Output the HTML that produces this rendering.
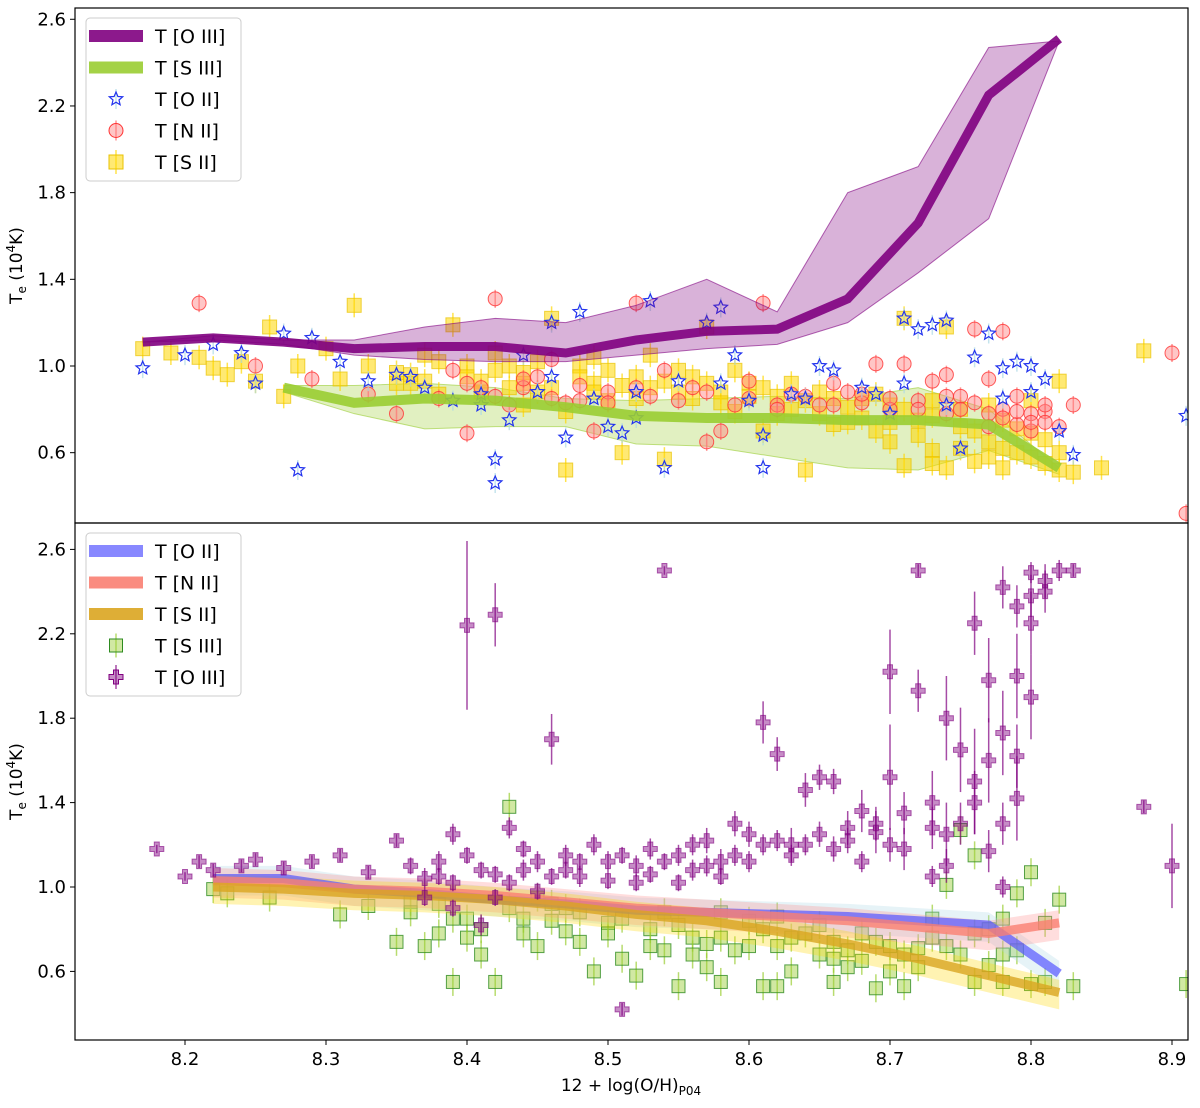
<!DOCTYPE html>
<html><head><meta charset="utf-8"><style>
body{margin:0;background:#fff}
svg text{font-family:"DejaVu Sans","Liberation Sans",sans-serif;fill:#000}
</style></head><body>
<svg id="chart" width="1200" height="1103" viewBox="0 0 1200 1103" xmlns="http://www.w3.org/2000/svg">
<g id="topPanel"></g>
<g id="botPanel"></g>
</svg>
<script>
// ---- data ----
const oiiiX=[8.17,8.22,8.27,8.32,8.37,8.42,8.47,8.52,8.57,8.62,8.67,8.72,8.77,8.82];
const oiiiY=[1.11,1.13,1.11,1.08,1.09,1.09,1.06,1.12,1.16,1.17,1.31,1.66,2.25,2.51];
const oiiiHi=[1.11,1.14,1.12,1.12,1.18,1.22,1.20,1.28,1.40,1.25,1.80,1.92,2.47,2.50];
const oiiiLo=[1.11,1.12,1.10,1.05,1.03,1.02,1.02,1.05,1.08,1.10,1.20,1.43,1.68,2.50];
const siiiX=[8.27,8.32,8.37,8.42,8.47,8.52,8.57,8.62,8.67,8.72,8.77,8.82];
const siiiY=[0.90,0.83,0.85,0.84,0.81,0.77,0.76,0.76,0.75,0.75,0.73,0.53];
const siiiHi=[0.91,0.91,0.92,0.90,0.85,0.84,0.85,0.86,0.85,0.90,0.80,0.53];
const siiiLo=[0.88,0.78,0.71,0.72,0.72,0.64,0.63,0.58,0.53,0.52,0.61,0.50];
const lineX=[8.22,8.27,8.32,8.37,8.42,8.47,8.52,8.57,8.62,8.67,8.72,8.77,8.82];
const oiiLine=[1.04,1.04,0.99,0.97,0.94,0.92,0.89,0.88,0.87,0.86,0.84,0.82,0.59];
const niiLine=[1.03,1.02,0.99,0.98,0.96,0.93,0.90,0.88,0.86,0.84,0.81,0.78,0.83];
const siiLine=[1.00,0.99,0.97,0.96,0.94,0.91,0.87,0.84,0.79,0.73,0.66,0.58,0.50];
const oiiPts=[[8.17,0.99],[8.20,1.05],[8.22,1.10],[8.24,1.06],[8.25,0.92],[8.27,1.15],[8.28,0.52],[8.29,1.13],[8.31,1.02],[8.33,0.93],[8.35,0.96],[8.37,0.90],[8.39,0.84],[8.41,0.82],[8.42,0.57],[8.43,0.75],[8.44,1.05],[8.45,0.88],[8.46,1.20],[8.47,0.67],[8.48,1.25],[8.49,0.85],[8.50,0.72],[8.51,0.69],[8.52,0.76],[8.53,1.30],[8.54,0.53],[8.55,0.93],[8.57,1.20],[8.58,1.27],[8.59,1.05],[8.60,0.84],[8.61,0.53],[8.61,0.68],[8.63,0.87],[8.65,1.00],[8.66,0.98],[8.68,0.90],[8.70,0.78],[8.71,1.22],[8.72,1.17],[8.73,1.19],[8.74,1.21],[8.75,0.62],[8.76,1.04],[8.77,1.15],[8.78,0.99],[8.79,1.02],[8.80,0.88],[8.81,0.94],[8.83,0.59],[8.91,0.77],[8.42,0.46],[8.41,0.87],[8.36,0.95],[8.71,0.92],[8.80,1.00],[8.82,0.70],[8.46,0.95],[8.52,0.88],[8.58,0.92],[8.64,0.85],[8.69,0.87],[8.74,0.82],[8.78,0.85]];
const niiPts=[[8.21,1.29],[8.25,1.00],[8.29,0.94],[8.33,0.87],[8.35,0.78],[8.38,0.85],[8.40,0.69],[8.41,0.90],[8.42,1.31],[8.43,0.82],[8.44,0.90],[8.46,1.03],[8.47,0.83],[8.48,0.84],[8.49,0.70],[8.50,0.88],[8.52,1.29],[8.54,0.98],[8.56,0.90],[8.57,0.65],[8.58,0.70],[8.59,0.82],[8.61,1.29],[8.62,0.82],[8.63,0.87],[8.65,0.82],[8.66,0.92],[8.67,0.88],[8.69,1.01],[8.70,0.80],[8.71,1.01],[8.72,0.84],[8.73,0.93],[8.74,0.96],[8.75,0.86],[8.76,1.17],[8.77,0.78],[8.77,0.94],[8.78,1.16],[8.78,0.80],[8.79,0.73],[8.80,0.78],[8.80,0.70],[8.81,0.79],[8.82,0.72],[8.83,0.82],[8.90,1.06],[8.91,0.32],[8.39,0.98],[8.45,0.95],[8.53,0.86],[8.60,0.93],[8.68,0.83],[8.74,0.86],[8.79,0.86],[8.81,0.74],[8.40,0.92],[8.42,0.86],[8.44,0.94],[8.46,0.85],[8.48,0.91],[8.50,0.83],[8.52,0.90],[8.55,0.84],[8.57,0.88],[8.60,0.85],[8.62,0.80],[8.64,0.86],[8.66,0.82],[8.68,0.87],[8.70,0.85],[8.72,0.80],[8.74,0.78],[8.76,0.83],[8.78,0.76],[8.79,0.79],[8.80,0.74],[8.81,0.82],[8.77,0.72],[8.75,0.80]];
const siiPts=[[8.17,1.08],[8.19,1.06],[8.21,1.04],[8.22,0.99],[8.23,0.96],[8.24,1.02],[8.25,0.93],[8.26,1.18],[8.27,0.86],[8.28,1.00],[8.30,1.08],[8.31,0.94],[8.32,1.28],[8.33,1.00],[8.35,0.92],[8.36,0.96],[8.37,1.05],[8.38,0.87],[8.39,1.19],[8.40,1.00],[8.41,0.93],[8.42,1.06],[8.43,0.90],[8.44,0.97],[8.45,0.88],[8.46,1.22],[8.47,0.79],[8.47,0.52],[8.48,1.00],[8.49,0.92],[8.50,0.84],[8.51,0.60],[8.52,0.95],[8.53,0.90],[8.54,0.57],[8.55,0.98],[8.56,0.85],[8.57,1.18],[8.58,0.88],[8.59,0.79],[8.60,0.92],[8.61,0.70],[8.62,0.86],[8.63,0.80],[8.64,0.52],[8.65,0.78],[8.66,0.85],[8.67,0.81],[8.68,0.76],[8.69,0.70],[8.70,0.82],[8.71,1.22],[8.71,0.54],[8.72,0.75],[8.73,0.61],[8.74,1.18],[8.74,0.53],[8.75,0.72],[8.76,0.56],[8.77,0.65],[8.78,0.53],[8.78,0.75],[8.79,0.60],[8.80,0.69],[8.81,0.55],[8.82,0.52],[8.82,0.93],[8.83,0.51],[8.85,0.53],[8.88,1.07],[8.44,0.82],[8.53,1.05],[8.59,0.98],[8.66,0.73],[8.69,0.87],[8.73,0.84],[8.77,0.82],[8.80,0.84],[8.36,0.92],[8.42,0.98],[8.49,1.04],[8.56,0.95],[8.63,0.92],[8.35,0.97],[8.37,0.93],[8.38,1.02],[8.40,0.95],[8.41,0.88],[8.43,1.00],[8.44,0.92],[8.45,1.02],[8.46,0.90],[8.48,0.95],[8.49,0.88],[8.50,0.98],[8.51,0.91],[8.52,0.85],[8.54,0.93],[8.55,0.88],[8.57,0.92],[8.58,0.83],[8.60,0.86],[8.61,0.90],[8.62,0.78],[8.64,0.84],[8.65,0.88],[8.67,0.74],[8.68,0.85],[8.70,0.74],[8.71,0.80],[8.72,0.68],[8.73,0.77],[8.75,0.80],[8.76,0.70],[8.77,0.58],[8.78,0.62],[8.79,0.71],[8.80,0.58],[8.81,0.66],[8.82,0.60],[8.75,0.62],[8.73,0.55],[8.70,0.65]];
const siiiPts=[[8.22,0.99],[8.23,0.97],[8.26,0.95],[8.31,0.87],[8.33,0.91],[8.35,0.74],[8.36,0.93],[8.37,0.72],[8.38,0.78],[8.39,0.55],[8.40,0.76],[8.41,0.68],[8.42,0.55],[8.43,1.38],[8.44,0.85],[8.45,0.72],[8.46,0.92],[8.47,0.79],[8.48,0.74],[8.49,0.60],[8.50,0.83],[8.51,0.66],[8.52,0.58],[8.53,0.80],[8.54,0.70],[8.55,0.53],[8.56,0.76],[8.57,0.62],[8.58,0.88],[8.59,0.70],[8.60,0.84],[8.61,0.53],[8.62,0.72],[8.63,0.60],[8.64,0.78],[8.65,0.68],[8.66,0.74],[8.67,0.62],[8.68,0.78],[8.69,0.52],[8.70,0.60],[8.71,0.53],[8.72,0.71],[8.73,0.85],[8.74,1.01],[8.75,1.27],[8.76,1.15],[8.77,0.63],[8.78,0.68],[8.79,0.97],[8.80,0.54],[8.80,1.07],[8.81,0.83],[8.82,0.94],[8.83,0.53],[8.91,0.54],[8.47,0.90],[8.54,0.88],[8.62,0.86],[8.69,0.74],[8.74,0.72],[8.78,0.85],[8.39,0.85],[8.45,0.95],[8.57,0.73],[8.66,0.66],[8.71,0.68],[8.76,0.78],[8.36,0.88],[8.38,0.92],[8.40,0.85],[8.41,0.80],[8.43,0.90],[8.44,0.78],[8.46,0.84],[8.48,0.88],[8.50,0.78],[8.51,0.85],[8.53,0.72],[8.55,0.82],[8.56,0.68],[8.58,0.76],[8.60,0.72],[8.61,0.80],[8.63,0.76],[8.65,0.82],[8.67,0.70],[8.68,0.65],[8.70,0.72],[8.72,0.62],[8.73,0.76],[8.75,0.68],[8.77,0.80],[8.79,0.70],[8.81,0.55],[8.78,0.55],[8.76,0.55],[8.66,0.55],[8.62,0.53],[8.58,0.55]];
const oiiiPts=[[8.18,1.18,0.02],[8.20,1.05,0.02],[8.21,1.12,0.03],[8.22,1.08,0.03],[8.24,1.10,0.03],[8.25,1.13,0.03],[8.27,1.09,0.03],[8.29,1.12,0.03],[8.31,1.15,0.03],[8.33,1.07,0.03],[8.35,1.22,0.03],[8.37,1.04,0.05],[8.38,1.12,0.05],[8.39,1.25,0.05],[8.40,2.24,0.4],[8.41,0.82,0.05],[8.42,2.29,0.15],[8.43,1.28,0.05],[8.44,1.08,0.05],[8.45,1.12,0.05],[8.46,1.70,0.12],[8.47,1.15,0.05],[8.48,1.05,0.05],[8.49,1.20,0.05],[8.50,1.12,0.05],[8.51,0.42,0.03],[8.52,1.10,0.05],[8.53,1.18,0.05],[8.54,2.50,0.02],[8.55,1.15,0.05],[8.56,1.08,0.05],[8.57,1.22,0.06],[8.58,1.12,0.06],[8.59,1.30,0.06],[8.60,1.25,0.06],[8.61,1.78,0.1],[8.62,1.63,0.08],[8.63,1.20,0.08],[8.64,1.46,0.08],[8.65,1.52,0.06],[8.66,1.50,0.06],[8.67,1.28,0.08],[8.68,1.36,0.1],[8.69,1.26,0.1],[8.70,2.02,0.2],[8.70,1.52,0.25],[8.71,1.18,0.1],[8.72,2.50,0.03],[8.72,1.93,0.1],[8.73,1.40,0.15],[8.74,1.80,0.2],[8.74,1.25,0.15],[8.75,1.65,0.2],[8.76,2.25,0.15],[8.76,1.50,0.25],[8.77,1.98,0.2],[8.77,1.17,0.1],[8.78,2.42,0.1],[8.78,1.73,0.2],[8.79,2.33,0.1],[8.79,1.42,0.2],[8.80,2.49,0.05],[8.80,1.90,0.2],[8.81,2.40,0.1],[8.82,2.50,0.05],[8.83,2.50,0.03],[8.88,1.38,0.03],[8.90,1.10,0.2],[8.39,1.02,0.04],[8.45,0.98,0.04],[8.52,1.02,0.04],[8.58,1.05,0.04],[8.63,1.15,0.05],[8.68,1.12,0.05],[8.73,1.05,0.05],[8.78,1.00,0.05],[8.42,1.06,0.04],[8.55,1.02,0.04],[8.36,1.10,0.04],[8.38,1.05,0.04],[8.40,1.15,0.04],[8.41,1.08,0.04],[8.43,1.02,0.04],[8.44,1.18,0.04],[8.46,1.05,0.04],[8.47,1.08,0.04],[8.48,1.12,0.04],[8.50,1.03,0.04],[8.51,1.15,0.04],[8.53,1.06,0.04],[8.54,1.12,0.04],[8.56,1.20,0.05],[8.57,1.10,0.05],[8.59,1.15,0.05],[8.60,1.12,0.05],[8.61,1.20,0.05],[8.62,1.22,0.05],[8.64,1.20,0.05],[8.65,1.25,0.06],[8.66,1.18,0.06],[8.67,1.22,0.06],[8.69,1.30,0.08],[8.70,1.20,0.08],[8.71,1.35,0.1],[8.73,1.28,0.1],[8.74,1.10,0.08],[8.75,1.30,0.1],[8.76,1.40,0.15],[8.77,1.60,0.2],[8.78,1.30,0.1],[8.79,2.00,0.2],[8.80,2.25,0.15],[8.81,2.45,0.08],[8.79,1.62,0.15],[8.80,2.38,0.1],[8.37,0.95,0.04],[8.39,0.90,0.04],[8.42,0.95,0.04]];
const xTicks=[8.2,8.3,8.4,8.5,8.6,8.7,8.8,8.9];
const yTicks=[0.6,1.0,1.4,1.8,2.2,2.6];

// ---- axes ----
const NS='http://www.w3.org/2000/svg';
const L=75,R=1188;
const xs=v=>185+(v-8.2)*1410;
const ysTop=v=>366-(v-1.0)*216.7;
const ysBot=v=>887-(v-1.0)*211;
function mk(p,t,a){const e=document.createElementNS(NS,t);for(const k in a)e.setAttribute(k,a[k]);p.appendChild(e);return e;}
const topG=document.getElementById('topPanel'),botG=document.getElementById('botPanel');
const svgRoot=document.getElementById('chart');

function clip(id,y0,y1){const d=mk(svgRoot,'clipPath',{id:id});mk(d,'rect',{x:L,y:y0,width:R-L,height:y1-y0});}
clip('ct',8,523);clip('cb',523,1040);
const gT=mk(topG,'g',{'clip-path':'url(#ct)'});


const gB=mk(botG,'g',{'clip-path':'url(#cb)'});



function band(g,X,lo,hi,ys,fill,op,stroke,name){
  let d='M'+X.map((x,i)=>xs(x)+','+ys(hi[i])).join('L')+'L'+X.slice().reverse().map((x,i)=>xs(x)+','+ys(lo[lo.length-1-i])).join('L')+'Z';
  const e=mk(g,'path',{d:d,fill:fill,'fill-opacity':op,stroke:stroke,'stroke-opacity':0.6,'stroke-width':1});
  
  
}
function line(g,X,Y,ys,col,w,op,name){
  const e=mk(g,'polyline',{points:X.map((x,i)=>xs(x)+','+ys(Y[i])).join(' '),fill:'none',stroke:col,'stroke-width':w,'stroke-opacity':op});
  
  
}
function star(cx,cy,r){let p=[];for(let i=0;i<10;i++){const a=-Math.PI/2+i*Math.PI/5,rr=i%2?r*0.45:r;p.push((cx+rr*Math.cos(a)).toFixed(1)+','+(cy+rr*Math.sin(a)).toFixed(1));}return p.join(' ');}
function errbar(g,x,y1,y2,col){mk(g,'line',{x1:x,x2:x,y1:y1,y2:y2,stroke:col,'stroke-width':1.5,'stroke-opacity':0.7});}

// top panel
band(gT,siiiX,siiiLo,siiiHi,ysTop,'#9acd32',0.3,'#9acd32','siii-band');
siiPts.forEach(p=>{const x=xs(p[0]),y=ysTop(p[1]);errbar(gT,x,y-12,y+12,'#ffd700');
  const e=mk(gT,'rect',{x:x-7,y:y-7,width:14,height:14,fill:'#ffd700','fill-opacity':0.55,stroke:'#e8c200','stroke-opacity':0.7});
  
  });
niiPts.forEach(p=>{const x=xs(p[0]),y=ysTop(p[1]);errbar(gT,x,y-9,y+9,'#ff6666');
  const e=mk(gT,'circle',{cx:x,cy:y,r:7,fill:'#ff8080','fill-opacity':0.45,stroke:'#ff3333','stroke-opacity':0.8});
  
  });
oiiPts.forEach(p=>{const x=xs(p[0]),y=ysTop(p[1]);errbar(gT,x,y-10,y+10,'#add8e6');
  const e=mk(gT,'polygon',{points:star(x,y,7),fill:'none',stroke:'#2233ee','stroke-width':1.2});
  
  });
line(gT,siiiX,siiiY,ysTop,'#9acd32',10,0.9,'siii-line');
band(gT,oiiiX,oiiiLo,oiiiHi,ysTop,'#800080',0.3,'#800080','oiii-band');
line(gT,oiiiX,oiiiY,ysTop,'#800080',9,0.9,'oiii-line');

// bottom panel
siiiPts.forEach(p=>{const x=xs(p[0]),y=ysBot(p[1]);errbar(gB,x,y-14,y+14,'#9acd32');
  const e=mk(gB,'rect',{x:x-6.5,y:y-6.5,width:13,height:13,fill:'#9acd32','fill-opacity':0.45,stroke:'#2e8b20','stroke-opacity':0.8});
  
  });
[['#add8e6',oiiLine,'oii'],['#ff9090',niiLine,'nii'],['#ffd700',siiLine,'sii']].forEach(s=>{
  const hi=s[1].map(v=>v+0.06),lo=s[1].map(v=>v-0.08);
  band(gB,lineX,lo,hi,ysBot,s[0],0.3,'none',s[2]+'-band');});
line(gB,lineX,oiiLine,ysBot,'#5555ff',9,0.7,'oii-line');
line(gB,lineX,niiLine,ysBot,'#fa8072',9,0.8,'nii-line');
line(gB,lineX,siiLine,ysBot,'#daa520',9,0.8,'sii-line');
oiiiPts.forEach(p=>{const x=xs(p[0]),y=ysBot(p[1]),e2=p[2]*211;errbar(gB,x,y-e2,y+e2,'#800080');
  const e=mk(gB,'path',{d:`M${x-2.5},${y-7}h5v4.5h4.5v5h-4.5v4.5h-5v-4.5h-4.5v-5h4.5z`,fill:'#800080','fill-opacity':0.45,stroke:'#800080','stroke-opacity':0.6});
  
  });

// frames & ticks
function frame(g,y0,y1,ys,tag){
  const f=mk(g,'rect',{x:L,y:y0,width:R-L,height:y1-y0,fill:'none',stroke:'#000','stroke-width':1.2});
  
  
  yTicks.forEach(v=>{const y=ys(v);mk(g,'line',{x1:L-5,x2:L,y1:y,y2:y,stroke:'#000'});
    const t=mk(g,'text',{x:L-9,y:y+6,'text-anchor':'end','font-size':18});t.textContent=v.toFixed(1);
    
    });
  const yt=mk(g,'text',{transform:`translate(22,${(y0+y1)/2}) rotate(-90)`,'text-anchor':'middle','font-size':17});
  yt.innerHTML='T<tspan font-size="12" dy="4">e</tspan><tspan dy="-4"> (10</tspan><tspan font-size="12" dy="-7">4</tspan><tspan dy="7">K)</tspan>';
  
  
}
frame(topG,8,523,ysTop,'top');frame(botG,523,1040,ysBot,'bottom');
xTicks.forEach(v=>{const x=xs(v);mk(botG,'line',{x1:x,x2:x,y1:1040,y2:1045,stroke:'#000'});
  const t=mk(botG,'text',{x:x,y:1065,'text-anchor':'middle','font-size':18});t.textContent=v.toFixed(1);
  
  });
const xt=mk(botG,'text',{x:631,y:1091,'text-anchor':'middle','font-size':17});
xt.innerHTML='12 + log(O/H)<tspan font-size="12" dy="4">P04</tspan>';



// legends
function legend(g,y0,items,name){
  const lg=mk(g,'g',{});
  
  
  mk(lg,'rect',{x:86,y:y0,width:155,height:163,rx:4,fill:'#fff','fill-opacity':0.85,stroke:'#ccc'});
  items.forEach((it,i)=>{const y=y0+18+i*31.5;
    const en=mk(lg,'g',{});
    
    
    const cx=116;
    if(it.t==='line')mk(en,'rect',{x:89,y:y-6,width:54,height:12,fill:it.c,'fill-opacity':it.o||0.9});
    else if(it.t==='star'){errbar(en,cx,y-10,y+10,'#add8e6');mk(en,'polygon',{points:star(cx,y,7),fill:'none',stroke:'#2233ee','stroke-width':1.2});}
    else if(it.t==='circ'){errbar(en,cx,y-10,y+10,'#ff6666');mk(en,'circle',{cx:cx,cy:y,r:7,fill:'#ff8080','fill-opacity':0.45,stroke:'#ff3333'});}
    else if(it.t==='ysq'){errbar(en,cx,y-12,y+12,'#ffd700');mk(en,'rect',{x:cx-7,y:y-7,width:14,height:14,fill:'#ffd700','fill-opacity':0.55,stroke:'#e8c200'});}
    else if(it.t==='gsq'){errbar(en,cx,y-12,y+12,'#9acd32');mk(en,'rect',{x:cx-6.5,y:y-6.5,width:13,height:13,fill:'#9acd32','fill-opacity':0.45,stroke:'#2e8b20'});}
    else {errbar(en,cx,y-12,y+12,'#800080');mk(en,'path',{d:`M${cx-2.5},${y-7}h5v4.5h4.5v5h-4.5v4.5h-5v-4.5h-4.5v-5h4.5z`,fill:'#800080','fill-opacity':0.45,stroke:'#800080'});}
    const t=mk(en,'text',{x:155,y:y+7,'font-size':19});t.textContent=it.l;});
}
legend(topG,18,[{t:'line',c:'#800080',l:'T [O III]'},{t:'line',c:'#9acd32',l:'T [S III]'},{t:'star',l:'T [O II]'},{t:'circ',l:'T [N II]'},{t:'ysq',l:'T [S II]'}],'top-legend');
legend(botG,533,[{t:'line',c:'#5555ff',o:0.7,l:'T [O II]'},{t:'line',c:'#fa8072',l:'T [N II]'},{t:'line',c:'#daa520',l:'T [S II]'},{t:'gsq',l:'T [S III]'},{t:'plus',l:'T [O III]'}],'bottom-legend');
</script>
</body></html>
